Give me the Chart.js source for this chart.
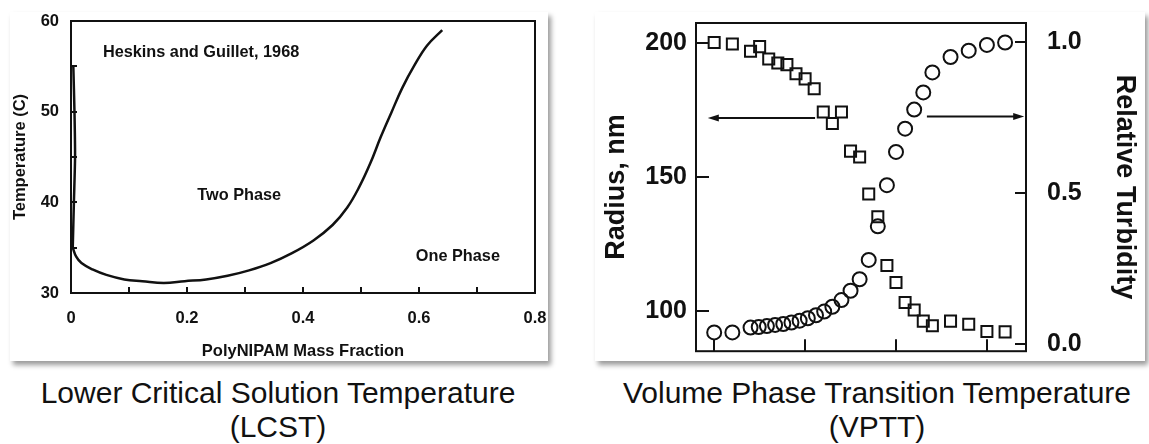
<!DOCTYPE html>
<html>
<head>
<meta charset="utf-8">
<script src="https://cdn.jsdelivr.net/npm/chart.js@4.4.1/dist/chart.umd.min.js"></script>
<style>
  body { margin: 0; width: 1149px; height: 444px; background: #fff; position: relative; overflow: hidden;
         font-family: "Liberation Sans", Arial, sans-serif; }
  .card { position: absolute; background: #fff; box-shadow: 3px 4px 5px rgba(0,0,0,0.4); }
  #card1 { left: 10px; top: 12px; width: 538px; height: 349px; }
  #card2 { left: 595px; top: 12px; width: 550px; height: 349px; }
  .cap { position: absolute; text-align: center; font-size: 30px; line-height: 34px; color: #111; white-space: nowrap; }
  #cap1 { left: 0px; width: 556px; top: 376px; }
  #cap2 { left: 597px; width: 560px; top: 376px; }
</style>
</head>
<body>
<div class="card" id="card1"><canvas id="lcst" width="538" height="349"></canvas></div>
<div class="card" id="card2"><canvas id="vptt" width="550" height="349"></canvas></div>
<div class="cap" id="cap1">Lower Critical Solution Temperature<br>(LCST)</div>
<div class="cap" id="cap2">Volume Phase Transition Temperature<br>(VPTT)</div>
<script>
// ---- LCST phase diagram (left) ----
var lineX = [0.004, 0.006, 0.007, 0.005, 0.003];
var lineY = [55, 50, 45, 40, 35];
var curveX = [0.003, 0.009, 0.018, 0.037, 0.061, 0.092, 0.123, 0.16, 0.196, 0.233, 0.27, 0.307, 0.344,
              0.381, 0.418, 0.451, 0.476, 0.497, 0.516, 0.534, 0.553, 0.571, 0.592, 0.614, 0.64];
var curveY = [35, 34.0, 33.3, 32.6, 32.0, 31.5, 31.3, 31.1, 31.3, 31.5, 31.9, 32.5, 33.3,
              34.4, 35.8, 37.5, 39.4, 41.7, 44.3, 47.2, 50.0, 52.6, 55.1, 57.3, 59.0];
var lcstXTicks = [0, 0.1, 0.2, 0.3, 0.4, 0.5, 0.6, 0.7, 0.8];
var lcstXLabels = ['0', '', '0.2', '', '0.4', '', '0.6', '', '0.8'];
var lcstYTicks = [30, 35, 40, 45, 50, 55, 60];
var lcstYLabels = ['30', '', '40', '', '50', '', '60'];
var lcstNotes = ['Heskins and Guillet, 1968', 'Two Phase', 'One Phase'];
var lcstNoteX = [0.055, 0.29, 0.667];
var lcstNoteY = [56.5, 40.8, 34.0];

// ---- VPTT (right) ----
var radiusTemp = [25, 26, 27, 27.5, 28, 28.5, 29, 29.5, 30, 30.5, 31, 31.5, 32, 32.5, 33, 33.5, 34,
                  34.5, 35, 35.5, 36, 36.5, 37, 38, 39, 40, 41];
var radius = [200.1, 199.6, 196.9, 198.6, 194.0, 192.5, 191.9, 188.5, 186.6, 182.9, 174.3, 170.0, 174.3,
              159.7, 157.5, 143.7, 135.3, 117.1, 110.8, 103.3, 100.5, 96.4, 94.7, 96.4, 95.2, 92.5, 92.4];
var turbTemp = [25, 26, 27, 27.45, 27.9, 28.35, 28.8, 29.25, 29.7, 30.15, 30.6, 31.05, 31.5, 32, 32.5, 33,
                33.5, 34, 34.5, 35, 35.5, 36, 36.5, 37, 38, 39, 40, 41];
var turbidity = [0.039, 0.039, 0.055, 0.057, 0.060, 0.064, 0.067, 0.072, 0.078, 0.086, 0.096, 0.108, 0.124,
                 0.146, 0.177, 0.215, 0.279, 0.39, 0.526, 0.636, 0.713, 0.776, 0.833, 0.899, 0.950, 0.971, 0.990, 0.998];
var vpttXTicks = [25, 30, 35, 40];
var radiusTicks = [100, 150, 200];
var turbTicks = [0, 0.5, 1.0];
var arrowLeftX = [30.55, 24.65], arrowLeftY = 172;
var arrowRightX = [36.7, 42.05], arrowRightY = 0.753;

var ink = '#111';
var font = '"Liberation Sans", Arial, sans-serif';

function pts(xs, ys) {
    return xs.map(function (x, i) { return {x: x, y: ys[i]}; });
}

function fixTicks(values) {
    return function (scale) {
        scale.ticks = values.map(function (v) { return {value: v}; });
    };
}

function fixSize(w, h) {
    return function (scale) {
        if (w !== null) scale.width = w;
        if (h !== null) scale.height = h;
        scale.paddingTop = 0; scale.paddingBottom = 0;
        scale.paddingLeft = 0; scale.paddingRight = 0;
    };
}

// frame round the plot area
var framePlugin = {
    id: 'frame',
    afterDraw: function (chart) {
        var a = chart.chartArea, ctx = chart.ctx;
        ctx.save();
        ctx.strokeStyle = ink;
        ctx.lineWidth = 2;
        ctx.strokeRect(a.left, a.top, a.right - a.left, a.bottom - a.top);
        ctx.restore();
    }
};

var notesPlugin = {
    id: 'notes',
    afterDatasetsDraw: function (chart) {
        var ctx = chart.ctx, xs = chart.scales.x, ys = chart.scales.y;
        ctx.save();
        ctx.fillStyle = ink;
        ctx.font = 'bold 16.3px ' + font;
        ctx.textBaseline = 'middle';
        lcstNotes.forEach(function (t, i) {
            ctx.textAlign = i === 0 ? 'left' : 'center';
            ctx.fillText(t, xs.getPixelForValue(lcstNoteX[i]), ys.getPixelForValue(lcstNoteY[i]));
        });
        ctx.restore();
    }
};

function arrow(ctx, x1, y, x2) {
    var dir = x2 > x1 ? 1 : -1;
    ctx.beginPath();
    ctx.moveTo(x1, y);
    ctx.lineTo(x2 - dir * 8, y);
    ctx.stroke();
    ctx.beginPath();
    ctx.moveTo(x2, y);
    ctx.lineTo(x2 - dir * 11, y - 3.5);
    ctx.lineTo(x2 - dir * 11, y + 3.5);
    ctx.closePath();
    ctx.fill();
}

var arrowPlugin = {
    id: 'arrows',
    afterDatasetsDraw: function (chart) {
        var ctx = chart.ctx, xs = chart.scales.x;
        ctx.save();
        ctx.strokeStyle = ink; ctx.fillStyle = ink; ctx.lineWidth = 2;
        arrow(ctx, xs.getPixelForValue(arrowLeftX[0]), chart.scales.y.getPixelForValue(arrowLeftY),
              xs.getPixelForValue(arrowLeftX[1]));
        arrow(ctx, xs.getPixelForValue(arrowRightX[0]), chart.scales.y2.getPixelForValue(arrowRightY),
              xs.getPixelForValue(arrowRightX[1]));
        ctx.restore();
    }
};

var lcst = new Chart(document.getElementById('lcst'), {
    type: 'scatter',
    data: {
        datasets: [{
            data: pts(lineX, lineY),
            showLine: true, borderColor: ink, borderWidth: 2.5, pointRadius: 0, tension: 0.2
        }, {
            data: pts(curveX, curveY),
            showLine: true, borderColor: ink, borderWidth: 2.5, pointRadius: 0, tension: 0.4
        }]
    },
    options: {
        responsive: false,
        animation: false,
        layout: { padding: { top: 9, right: 13, left: 0, bottom: 0 } },
        plugins: { legend: { display: false }, tooltip: { enabled: false } },
        scales: {
            x: {
                type: 'linear', min: 0, max: 0.8,
                afterBuildTicks: fixTicks(lcstXTicks),
                afterFit: fixSize(null, 68),
                border: { display: false },
                grid: { drawOnChartArea: false, drawTicks: true, tickLength: -6, color: ink, lineWidth: 2 },
                ticks: {
                    padding: 22, color: ink, maxRotation: 0, autoSkip: false,
                    font: { family: font, size: 16.5, weight: 'bold' },
                    callback: function (v, i) { return lcstXLabels[i]; }
                },
                title: { display: true, text: 'PolyNIPAM Mass Fraction', color: ink,
                         padding: { top: 0, bottom: 0 }, font: { family: font, size: 16.5, weight: 'bold' } }
            },
            y: {
                type: 'linear', min: 30, max: 60,
                afterBuildTicks: fixTicks(lcstYTicks),
                afterFit: fixSize(61, null),
                border: { display: false },
                grid: { drawOnChartArea: false, drawTicks: true, tickLength: -6, color: ink, lineWidth: 2 },
                ticks: {
                    padding: 18, color: ink, autoSkip: false,
                    font: { family: font, size: 16.5, weight: 'bold' },
                    callback: function (v, i) { return lcstYLabels[i]; }
                },
                title: { display: true, text: 'Temperature (C)', color: ink,
                         padding: { top: 1, bottom: 0 }, font: { family: font, size: 16.5, weight: 'bold' } }
            }
        }
    },
    plugins: [framePlugin, notesPlugin]
});

var vptt = new Chart(document.getElementById('vptt'), {
    type: 'scatter',
    data: {
        datasets: [{
            label: 'Radius',
            data: pts(radiusTemp, radius),
            yAxisID: 'y',
            pointStyle: 'rect', pointRadius: 7.8, borderWidth: 2,
            borderColor: ink, backgroundColor: 'rgba(0,0,0,0)'
        }, {
            label: 'Relative Turbidity',
            data: pts(turbTemp, turbidity),
            yAxisID: 'y2',
            pointStyle: 'circle', pointRadius: 7, borderWidth: 2,
            borderColor: ink, backgroundColor: 'rgba(0,0,0,0)'
        }]
    },
    options: {
        responsive: false,
        animation: false,
        layout: { padding: { top: 11, right: 0, left: 0, bottom: 0 } },
        plugins: { legend: { display: false }, tooltip: { enabled: false } },
        scales: {
            x: {
                type: 'linear', min: 24.0, max: 42.15,
                afterBuildTicks: fixTicks(vpttXTicks),
                afterFit: fixSize(null, 8),
                border: { display: false },
                grid: { drawOnChartArea: false, drawTicks: true, tickLength: -12, color: ink, lineWidth: 2 },
                ticks: { callback: function () { return ''; } }
            },
            y: {
                type: 'linear', position: 'left', min: 85.2, max: 207.4,
                afterBuildTicks: fixTicks(radiusTicks),
                afterFit: fixSize(101, null),
                border: { display: false },
                grid: { drawOnChartArea: false, drawTicks: true, tickLength: -13, color: ink, lineWidth: 2 },
                ticks: { padding: 22, color: ink, font: { family: font, size: 25, weight: 'bold' } },
                title: { display: true, text: 'Radius, nm', color: ink,
                         padding: { top: 5.8, bottom: 0 }, font: { family: font, size: 27, weight: 'bold' } }
            },
            y2: {
                type: 'linear', position: 'right', min: -0.023, max: 1.0625,
                afterBuildTicks: fixTicks(turbTicks),
                afterFit: fixSize(119, null),
                border: { display: false },
                grid: { drawOnChartArea: false, drawTicks: true, tickLength: -11, color: ink, lineWidth: 2 },
                ticks: { padding: 32, color: ink, font: { family: font, size: 25, weight: 'bold' },
                         callback: function (v) { return Number(v).toFixed(1); } },
                title: { display: true, text: 'Relative Turbidity', color: ink,
                         padding: { top: 4.8, bottom: 0 }, font: { family: font, size: 27, weight: 'bold' } }
            }
        }
    },
    plugins: [framePlugin, arrowPlugin]
});
</script>
</body>
</html>
